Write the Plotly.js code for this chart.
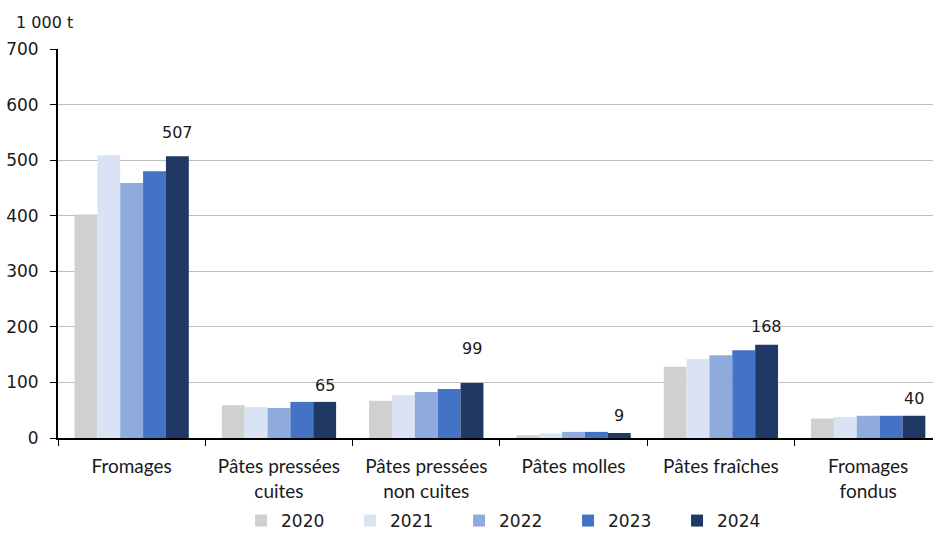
<!DOCTYPE html>
<html>
<head>
<meta charset="utf-8">
<script src="https://cdn.plot.ly/plotly-3.0.1.min.js"></script>
<style>html,body{margin:0;padding:0;background:#fff;}#chart{width:933px;height:533px;}</style>
</head>
<body>
<div id="chart"></div>
<script>
const categories = ["Fromages", "Pâtes pressées<br>cuites", "Pâtes pressées<br>non cuites", "Pâtes molles", "Pâtes fraîches", "Fromages<br>fondus"];
const years = ["2020", "2021", "2022", "2023", "2024"];
const v2020 = [402, 59, 67, 5, 128, 35];
const v2021 = [509, 56, 77, 8, 142, 38];
const v2022 = [459, 54, 83, 11, 149, 40];
const v2023 = [480, 65, 88, 11, 158, 40];
const v2024 = [507, 65, 99, 9, 168, 40];
const colors = ["#d0d0d0", "#dae3f3", "#8faadc", "#4472c4", "#203864"];
const yTicks = [0, 100, 200, 300, 400, 500, 600, 700];
const unitLabel = "1 000 t";

const series = [v2020, v2021, v2022, v2023, v2024];
const bargap = 0.224;
const traces = series.map((vals, i) => ({
  type: "bar",
  name: years[i],
  x: categories,
  y: vals,
  marker: {color: colors[i], line: {width: 0}},
  hoverinfo: "none"
}));

// labels over the last series (2024), placed on the 2024 bar of each group
const nSeries = series.length;
const barW = (1 - bargap) / nSeries;
const lastOffset = -(1 - bargap) / 2 + barW * (nSeries - 0.5);
const labelShift = [24, 16, 34, 17.5, 18.5, 17.5];
const labelAnns = v2024.map((v, i) => ({
  x: i + lastOffset, y: v, xref: "x", yref: "y",
  text: String(v), showarrow: false,
  xanchor: "center", yanchor: "middle", yshift: labelShift[i],
  font: {family: "DejaVu Sans, sans-serif", size: 16, color: "#1a1a1a"}
}));

const layout = {
  width: 933, height: 533,
  margin: {l: 58, r: 0, t: 49, b: 95, autoexpand: false},
  paper_bgcolor: "#fff", plot_bgcolor: "#fff",
  barmode: "group", bargap: bargap, bargroupgap: 0,
  font: {family: "DejaVu Sans, sans-serif", size: 16, color: "#1a1a1a"},
  showlegend: true,
  legend: {orientation: "h", x: 0.2092, xanchor: "left", y: -0.2134, yanchor: "middle",
           font: {family: "DejaVu Sans, sans-serif", size: 17, color: "#1a1a1a"},
           entrywidth: 64, itemwidth: 30, traceorder: "normal"},
  xaxis: {
    range: [-0.5, 5.44], type: "category", automargin: false,
    showline: true, linecolor: "#000", linewidth: 2,
    ticks: "outside", tickson: "boundaries", ticklen: 6, tickcolor: "#000", tickwidth: 1,
    ticklabelstandoff: 10,
    tickfont: {family: "Lato, sans-serif", size: 19, color: "#1a1a1a"},
    showgrid: false, fixedrange: true
  },
  yaxis: {
    range: [0, 700], tickvals: yTicks, ticktext: yTicks.map(String), automargin: false,
    showline: true, linecolor: "#000", linewidth: 2,
    ticks: "outside", ticklen: 6, tickcolor: "#000", tickwidth: 1,
    ticklabelstandoff: 8,
    showgrid: true, gridcolor: "#bfbfbf", gridwidth: 1, zeroline: false,
    tickfont: {family: "DejaVu Sans, sans-serif", size: 17, color: "#1a1a1a"},
    fixedrange: true
  },
  annotations: [{
    text: unitLabel, xref: "paper", yref: "paper", x: -0.05, y: 1.067,
    xanchor: "left", yanchor: "middle", showarrow: false,
    font: {family: "DejaVu Sans, sans-serif", size: 16, color: "#1a1a1a"}
  }].concat(labelAnns)
};

Plotly.newPlot("chart", traces, layout, {displayModeBar: false, staticPlot: true});
</script>
</body>
</html>
